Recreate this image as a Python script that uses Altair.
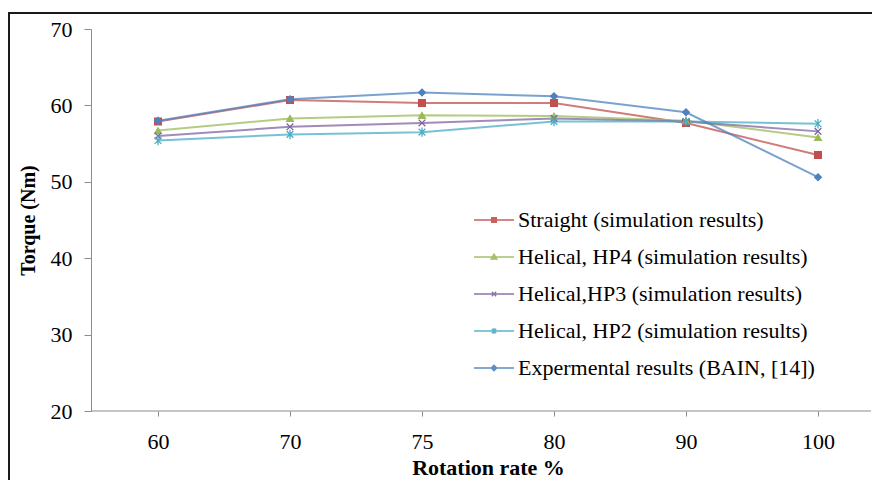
import altair as alt
import pandas as pd

rates = ["60", "70", "75", "80", "90", "100"]
series_names = [
    "Straight (simulation results)",
    "Helical, HP4 (simulation results)",
    "Helical,HP3 (simulation results)",
    "Helical, HP2 (simulation results)",
    "Expermental results (BAIN, [14])",
]
straight = [57.9, 60.7, 60.3, 60.3, 57.7, 53.5]
hp4 = [56.7, 58.3, 58.7, 58.6, 58.0, 55.8]
hp3 = [56.0, 57.2, 57.7, 58.3, 57.9, 56.6]
hp2 = [55.4, 56.2, 56.5, 57.9, 57.9, 57.6]
experimental = [58.0, 60.8, 61.7, 61.2, 59.1, 50.6]

colors = ["#C0504D", "#9BBB59", "#8064A2", "#4BACC6", "#4F81BD"]
shapes = [
    "square",
    "triangle-up",
    "M-1,-1L1,1M-1,1L1,-1",
    "M-1,-1L1,1M-1,1L1,-1M0,-1.4L0,1.4",
    "diamond",
]
# legend symbols: a line with a small marker in the middle
legend_paths = [
    "M-1,0L1,0M-0.12,-0.12L0.12,-0.12L0.12,0.12L-0.12,0.12Z",
    "M-1,0L1,0M0,-0.15L0.15,0.11L-0.15,0.11Z",
    "M-1,0L1,0M-0.11,-0.11L0.11,0.11M-0.11,0.11L0.11,-0.11",
    "M-1,0L1,0M-0.11,-0.11L0.11,0.11M-0.11,0.11L0.11,-0.11M0,-0.15L0,0.15",
    "M-1,0L1,0M0,-0.14L0.14,0L0,0.14L-0.14,0Z",
]

rows = []
for name, vals in zip(series_names, [straight, hp4, hp3, hp2, experimental]):
    for r, v in zip(rates, vals):
        rows.append({"rate": r, "torque": v, "series": name})
df = pd.DataFrame(rows)

FONT = "Liberation Serif"
W, H = 780, 382

x_enc = alt.X(
    "rate:N",
    sort=rates,
    scale=alt.Scale(type="point", range=[67, 727], padding=0),
    axis=alt.Axis(
        title="Rotation rate %",
        domain=False,
        ticks=True,
        tickSize=5,
        tickColor="#8c8c8c",
        labelAngle=0,
        labelFontSize=22,
        labelFont=FONT,
        labelColor="#000000",
        labelPadding=15,
        titleFontSize=22,
        titleFont=FONT,
        titleFontWeight="bold",
        titleColor="#000000",
        titlePadding=5,
        grid=False,
    ),
)
y_enc = alt.Y(
    "torque:Q",
    scale=alt.Scale(domain=[20, 70], nice=False, zero=False),
    axis=alt.Axis(
        title="Torque (Nm)",
        values=[20, 30, 40, 50, 60, 70],
        grid=False,
        domainColor="#8c8c8c",
        tickColor="#8c8c8c",
        tickSize=7,
        labelFontSize=22,
        labelFont=FONT,
        labelColor="#000000",
        labelPadding=12,
        titleFontSize=20,
        titleFont=FONT,
        titleFontWeight="bold",
        titleColor="#000000",
        titlePadding=12,
    ),
)

legend = alt.Legend(
    title=None,
    orient="none",
    legendX=382,
    legendY=170,
    padding=0,
    symbolSize=1600,
    symbolStrokeWidth=1.3,
    symbolOpacity=0.9,
    labelFontSize=22,
    labelFont=FONT,
    labelColor="#000000",
    labelOffset=3,
    rowPadding=5,
    labelLimit=400,
)

lines = alt.Chart(df).mark_line(strokeWidth=2, opacity=0.75).encode(
    x=x_enc,
    y=y_enc,
    color=alt.Color("series:N", scale=alt.Scale(domain=series_names, range=colors), legend=None),
)

points = alt.Chart(df).mark_point(filled=False, size=45, strokeWidth=1.3, opacity=1).encode(
    x=x_enc,
    y=y_enc,
    color=alt.Color("series:N", scale=alt.Scale(domain=series_names, range=colors), legend=None),
    fill=alt.Fill("series:N", scale=alt.Scale(domain=series_names, range=colors), legend=None),
    shape=alt.Shape("series:N", scale=alt.Scale(domain=series_names, range=shapes), legend=None),
)

# invisible layer that only carries the legend (line + marker symbols)
legend_layer = alt.Chart(df).mark_point(filled=False, size=1600, strokeWidth=1.3, opacity=0).encode(
    x=x_enc,
    y=y_enc,
    color=alt.Color("series:N", scale=alt.Scale(domain=series_names, range=colors), legend=legend),
    fill=alt.Fill("series:N", scale=alt.Scale(domain=series_names, range=colors), legend=legend),
    shape=alt.Shape("series:N", scale=alt.Scale(domain=series_names, range=legend_paths), legend=legend),
)

baseline = alt.Chart(pd.DataFrame({"a": [0]})).mark_rule(color="#8c8c8c", strokeWidth=1).encode(
    x=alt.value(0), x2=alt.value(W), y=alt.value(H)
)

border = alt.Chart(pd.DataFrame({"a": [0]})).mark_rect(
    fillOpacity=0, stroke="#1a1a1a", strokeWidth=2
).encode(x=alt.value(-82), x2=alt.value(W + 40), y=alt.value(-16), y2=alt.value(H + 120))

chart = (
    alt.layer(border, baseline, lines, points, legend_layer)
    .resolve_scale(color="independent", fill="independent", shape="independent")
    .properties(
        width=W,
        height=H,
        autosize=alt.AutoSizeParams(type="none"),
        padding={"left": 83, "top": 21, "right": 1, "bottom": 69},
        background="white",
    )
    .configure_view(stroke=None)
)

chart.save("out.html", embed_options={"renderer": "svg", "actions": False})
